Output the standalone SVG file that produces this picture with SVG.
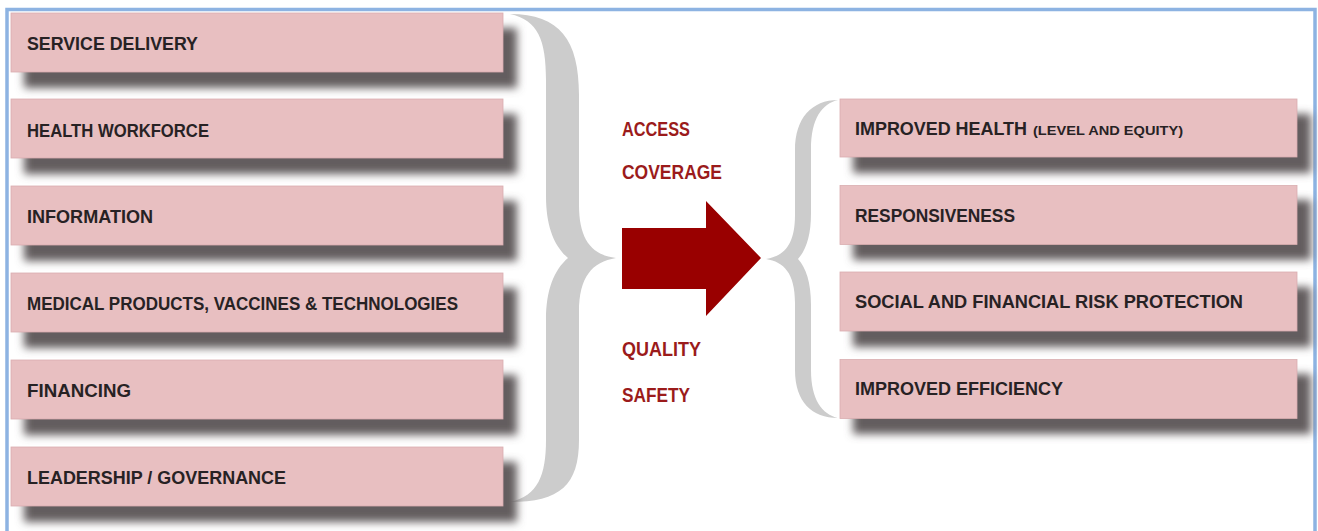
<svg xmlns="http://www.w3.org/2000/svg" width="1318" height="531" viewBox="0 0 1318 531">
  <defs>
    <filter id="sh" x="-5%" y="-40%" width="110%" height="180%">
      <feGaussianBlur stdDeviation="4"/>
    </filter>
    <style>
      .box { fill: #e8bfc1; stroke: #d9adb0; stroke-width: 0.8; }
      .shadow { fill: #635d5f; filter: url(#sh); }
      .lbl { font-family: "Liberation Sans", Arial, sans-serif; font-weight: bold; font-size: 18px; fill: #272224; }
      .small { font-size: 12.5px; }
      .red { font-family: "Liberation Sans", Arial, sans-serif; font-weight: bold; font-size: 20px; fill: #9b1b1b; }
      .brace { fill: #cccccc; }
      .arrow { fill: #990000; }
    </style>
  </defs>
  <rect x="0" y="0" width="1318" height="531" fill="#ffffff"/>
  <rect x="7" y="9.5" width="1308" height="540" fill="#ffffff" stroke="#8db3e2" stroke-width="3.5"/>

  <g id="connectors">
    <path class="brace" d="M 510,14 C 560,14 579,40 579,95 L 579,205 C 579,240 592,255 616,258 C 592,262 579,277 579,312 L 579,440 C 579,485 560,502 510,502 C 538,496 546,475 546,440 L 546,320 C 546,290 554,270 568,258 C 554,246 546,226 546,196 L 546,80 C 546,40 538,20 510,14 Z"/>
    <path class="brace" d="M 838,100 C 812,100 795,118 795,150 L 795,215 C 795,245 784,256 766,259 C 784,262 795,273 795,303 L 795,370 C 795,402 812,418 838,418 C 822,414 811,400 811,370 L 811,305 C 811,282 806,268 798,259 C 806,250 811,236 811,213 L 811,150 C 811,118 822,104 838,100 Z"/>
    <path class="arrow" d="M 622,228 L 706,228 L 706,201 L 761,258 L 706,316 L 706,289 L 622,289 Z"/>
  </g>

  <g id="service-delivery">
    <rect class="shadow" x="24" y="28" width="493" height="60"/>
    <rect class="box" x="11" y="13" width="492" height="59"/>
    <text class="lbl" x="27" y="50" textLength="171" lengthAdjust="spacingAndGlyphs">SERVICE DELIVERY</text>
  </g>
  <g id="health-workforce">
    <rect class="shadow" x="24" y="114" width="493" height="60"/>
    <rect class="box" x="11" y="99" width="492" height="59"/>
    <text class="lbl" x="27" y="137" textLength="182" lengthAdjust="spacingAndGlyphs">HEALTH WORKFORCE</text>
  </g>
  <g id="information">
    <rect class="shadow" x="24" y="201" width="493" height="60"/>
    <rect class="box" x="11" y="186" width="492" height="59"/>
    <text class="lbl" x="27" y="223" textLength="126" lengthAdjust="spacingAndGlyphs">INFORMATION</text>
  </g>
  <g id="medical-products">
    <rect class="shadow" x="24" y="288" width="493" height="60"/>
    <rect class="box" x="11" y="273" width="492" height="59"/>
    <text class="lbl" x="27" y="310" textLength="431" lengthAdjust="spacingAndGlyphs">MEDICAL PRODUCTS, VACCINES &amp; TECHNOLOGIES</text>
  </g>
  <g id="financing">
    <rect class="shadow" x="24" y="375" width="493" height="60"/>
    <rect class="box" x="11" y="360" width="492" height="59"/>
    <text class="lbl" x="27" y="397" textLength="104" lengthAdjust="spacingAndGlyphs">FINANCING</text>
  </g>
  <g id="leadership-governance">
    <rect class="shadow" x="24" y="462" width="493" height="60"/>
    <rect class="box" x="11" y="447" width="492" height="59"/>
    <text class="lbl" x="27" y="484" textLength="259" lengthAdjust="spacingAndGlyphs">LEADERSHIP / GOVERNANCE</text>
  </g>

  <g id="labels">
    <text class="red" x="622" y="136" textLength="68" lengthAdjust="spacingAndGlyphs">ACCESS</text>
    <text class="red" x="622" y="179" textLength="100" lengthAdjust="spacingAndGlyphs">COVERAGE</text>
    <text class="red" x="622" y="356" textLength="79" lengthAdjust="spacingAndGlyphs">QUALITY</text>
    <text class="red" x="622" y="402" textLength="68" lengthAdjust="spacingAndGlyphs">SAFETY</text>
  </g>

  <g id="improved-health">
    <rect class="shadow" x="853" y="114" width="458" height="59"/>
    <rect class="box" x="840" y="99" width="457" height="58"/>
    <text class="lbl" x="855" y="135" textLength="172" lengthAdjust="spacingAndGlyphs">IMPROVED HEALTH</text>
    <text class="lbl small" x="1033" y="135" textLength="150" lengthAdjust="spacingAndGlyphs">(LEVEL AND EQUITY)</text>
  </g>
  <g id="responsiveness">
    <rect class="shadow" x="853" y="200" width="458" height="60"/>
    <rect class="box" x="840" y="185.5" width="457" height="59"/>
    <text class="lbl" x="855" y="222" textLength="160" lengthAdjust="spacingAndGlyphs">RESPONSIVENESS</text>
  </g>
  <g id="risk-protection">
    <rect class="shadow" x="853" y="287" width="458" height="60"/>
    <rect class="box" x="840" y="272" width="457" height="59"/>
    <text class="lbl" x="855" y="308" textLength="388" lengthAdjust="spacingAndGlyphs">SOCIAL AND FINANCIAL RISK PROTECTION</text>
  </g>
  <g id="improved-efficiency">
    <rect class="shadow" x="853" y="374" width="458" height="60"/>
    <rect class="box" x="840" y="359.5" width="457" height="59"/>
    <text class="lbl" x="855" y="395" textLength="208" lengthAdjust="spacingAndGlyphs">IMPROVED EFFICIENCY</text>
  </g>
</svg>
